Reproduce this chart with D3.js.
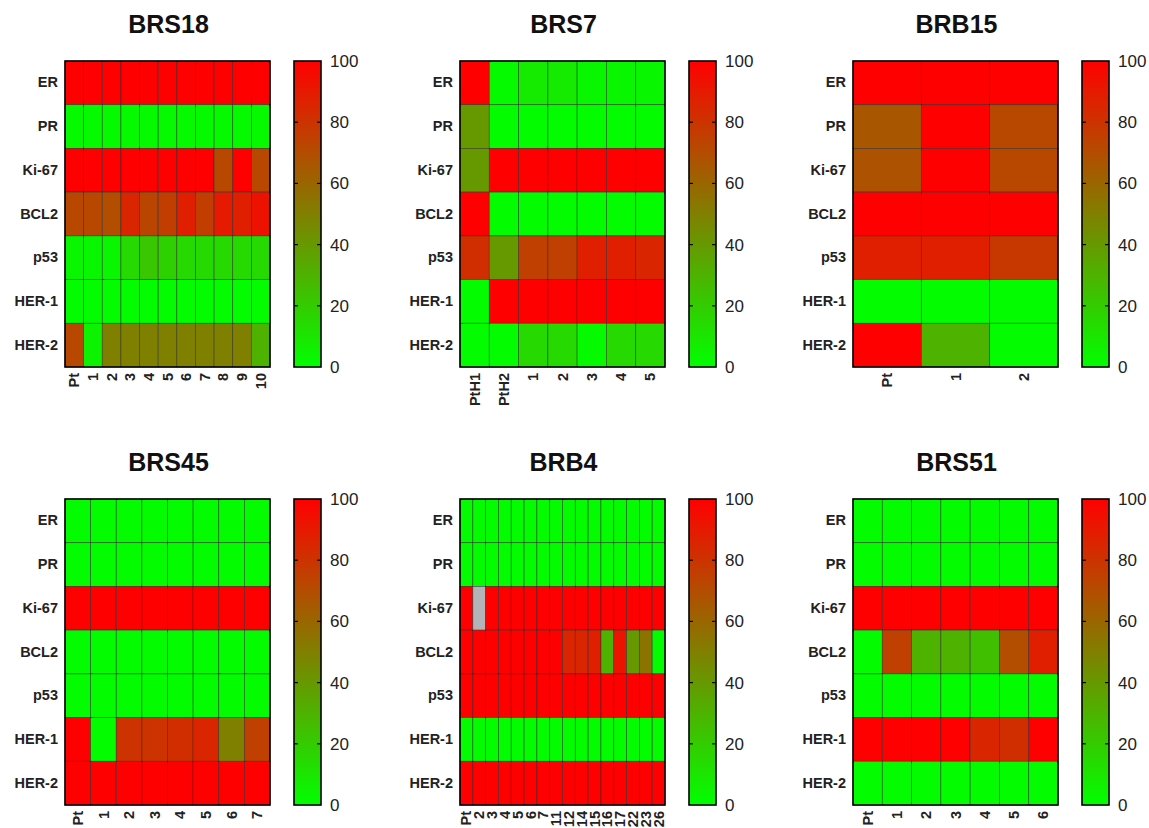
<!DOCTYPE html>
<html><head><meta charset="utf-8">
<script src="https://cdn.jsdelivr.net/npm/d3@7"></script>
<style>body{margin:0;background:#fff}svg{display:block}</style>
</head><body>
<svg id="chart" width="1149" height="828"></svg>
<script>
const markers = ["ER","PR","Ki-67","BCL2","p53","HER-1","HER-2"];
const colorTicks = [0,20,40,60,80,100];

// BRS18
const brs18Cols = ["Pt","1","2","3","4","5","6","7","8","9","10"];
const brs18Vals = [
  [100,100,100,100,100,100,100,100,100,100,100],
  [2,2,2,2,2,2,2,2,2,2,2],
  [100,100,100,100,100,100,100,100,72,100,72],
  [72,72,70,85,73,76,88,76,90,88,93],
  [3,3,3,15,22,18,15,15,15,15,15],
  [1,1,1,1,1,1,1,1,1,1,1],
  [72,5,50,50,50,50,50,50,50,50,30]
];
// BRS7
const brs7Cols = ["PtH1","PtH2","1","2","3","4","5"];
const brs7Vals = [
  [100,2,8,8,3,3,3],
  [40,1,1,1,1,1,1],
  [40,100,100,100,100,100,100],
  [100,1,1,1,1,1,1],
  [82,40,75,75,88,88,85],
  [1,100,100,100,100,100,100],
  [1,1,15,15,2,15,15]
];
// BRB15
const brb15Cols = ["Pt","1","2"];
const brb15Vals = [
  [100,100,100],
  [66,100,72],
  [68,100,72],
  [100,100,100],
  [88,88,78],
  [1,1,1],
  [100,30,1]
];
// BRS45
const brs45Cols = ["Pt","1","2","3","4","5","6","7"];
const brs45Vals = [
  [1,1,1,1,1,1,1,1],
  [1,1,1,1,1,1,1,1],
  [100,100,100,100,100,100,100,100],
  [1,1,1,1,1,1,1,1],
  [1,1,1,1,1,1,1,1],
  [100,1,80,80,82,85,50,75],
  [100,100,100,100,100,100,100,100]
];
// BRB4 (null = missing, drawn grey)
const brb4Cols = ["Pt","2","3","4","5","6","7","11","12","14","15","16","17","22","23","26"];
const brb4Vals = [
  [1,1,1,1,1,1,1,1,1,1,1,1,1,1,1,1],
  [1,1,1,1,1,1,1,1,1,1,1,1,1,1,1,1],
  [100,null,100,100,100,100,100,100,100,100,100,100,100,100,100,100],
  [100,100,100,100,100,100,100,100,85,85,88,30,92,40,55,1],
  [100,100,100,100,100,100,100,100,100,100,100,100,100,100,100,100],
  [1,1,1,1,1,1,1,1,1,1,1,1,1,1,1,1],
  [100,100,100,100,100,100,100,100,100,100,100,100,100,100,100,100]
];
// BRS51
const brs51Cols = ["Pt","1","2","3","4","5","6"];
const brs51Vals = [
  [1,1,1,1,1,1,1],
  [1,1,1,1,1,1,1],
  [100,100,100,100,100,100,100],
  [1,75,30,30,25,70,88],
  [1,1,1,1,1,1,1],
  [100,100,100,100,85,82,100],
  [1,1,1,1,1,1,1]
];

const panels = [
  {title:"BRS18", cols:brs18Cols, vals:brs18Vals},
  {title:"BRS7",  cols:brs7Cols,  vals:brs7Vals},
  {title:"BRB15", cols:brb15Cols, vals:brb15Vals},
  {title:"BRS45", cols:brs45Cols, vals:brs45Vals},
  {title:"BRB4",  cols:brb4Cols,  vals:brb4Vals},
  {title:"BRS51", cols:brs51Cols, vals:brs51Vals}
];

const svg = d3.select("#chart");
const color = d3.scaleLinear().domain([0,100]).range(["#00ff00","#ff0000"]).interpolate(d3.interpolateRgb);
const font = "Liberation Sans, Arial, sans-serif";

const defs = svg.append("defs");
const grad = defs.append("linearGradient").attr("id","cbgrad")
  .attr("x1",0).attr("y1",1).attr("x2",0).attr("y2",0);
d3.range(0,101,10).forEach(v => grad.append("stop").attr("offset", v/100).attr("stop-color", color(v)));

const colX = [65, 460, 853];
const rowY = [61, 499];
const hmW = 205, hmH = 306;
const cbOff = 229, cbW = 27;

panels.forEach((p, i) => {
  const x0 = colX[i % 3], y0 = rowY[Math.floor(i / 3)];
  const g = svg.append("g").attr("transform", `translate(${x0},${y0})`);
  const xs = d3.scaleBand().domain(p.cols).range([0, hmW]);
  const ys = d3.scaleBand().domain(markers).range([0, hmH]);

  const cells = [];
  p.vals.forEach((row, r) => row.forEach((v, c) => cells.push({m: markers[r], c: p.cols[c], v})));
  g.selectAll("rect.cell").data(cells).join("rect").attr("class","cell")
    .attr("x", d => xs(d.c)).attr("y", d => ys(d.m))
    .attr("width", xs.bandwidth()).attr("height", ys.bandwidth())
    .attr("fill", d => d.v == null ? "#b4b4b8" : color(d.v))
    .attr("stroke", "#1a1a1a").attr("stroke-opacity", 0.6).attr("stroke-width", 0.7);

  g.append("rect").attr("width", hmW).attr("height", hmH)
    .attr("fill","none").attr("stroke","#000").attr("stroke-width",1.6);

  // row labels
  const ya = d3.axisLeft(ys).tickSize(0).tickPadding(7);
  const yg = g.append("g").call(ya);
  yg.select(".domain").remove();
  yg.selectAll("text").attr("font-family", font).attr("font-weight","bold").attr("font-size", 14.5).attr("fill","#222");

  // column labels
  const xa = d3.axisBottom(xs).tickSize(0).tickPadding(4);
  const xg = g.append("g").attr("transform", `translate(0,${hmH})`).call(xa);
  xg.select(".domain").remove();
  xg.selectAll("text").attr("font-family", font).attr("font-weight","bold").attr("font-size", 14.5).attr("fill","#222")
    .attr("transform","rotate(-90)").attr("text-anchor","end").attr("dy","0.35em").attr("x",-6).attr("y",0);

  // title
  g.append("text").attr("x", hmW/2 + 1).attr("y", -28).attr("text-anchor","middle")
    .attr("font-family", font).attr("font-weight","bold").attr("font-size", 25).attr("fill","#111").text(p.title);

  // colorbar
  const cb = g.append("g").attr("transform", `translate(${cbOff},0)`);
  cb.append("rect").attr("width", cbW).attr("height", hmH).attr("fill","url(#cbgrad)");
  const cs = d3.scaleLinear().domain([0,100]).range([hmH, 0]);
  cb.selectAll("g.tk").data(colorTicks.slice(1,-1)).join("g").attr("class","tk").each(function(v){
    const s = d3.select(this);
    s.append("line").attr("x1",0).attr("x2",4).attr("y1",cs(v)).attr("y2",cs(v)).attr("stroke","#000").attr("stroke-width",1.2);
    s.append("line").attr("x1",cbW-4).attr("x2",cbW).attr("y1",cs(v)).attr("y2",cs(v)).attr("stroke","#000").attr("stroke-width",1.2);
  });
  cb.append("rect").attr("width", cbW).attr("height", hmH).attr("fill","none").attr("stroke","#000").attr("stroke-width",1.6);
  const ca = d3.axisRight(cs).tickValues(colorTicks).tickSize(0).tickPadding(9);
  const cg = cb.append("g").attr("transform", `translate(${cbW},0)`).call(ca);
  cg.select(".domain").remove();
  cg.selectAll("text").attr("font-family", font).attr("font-size", 17).attr("fill","#222");
});
</script>
</body></html>
